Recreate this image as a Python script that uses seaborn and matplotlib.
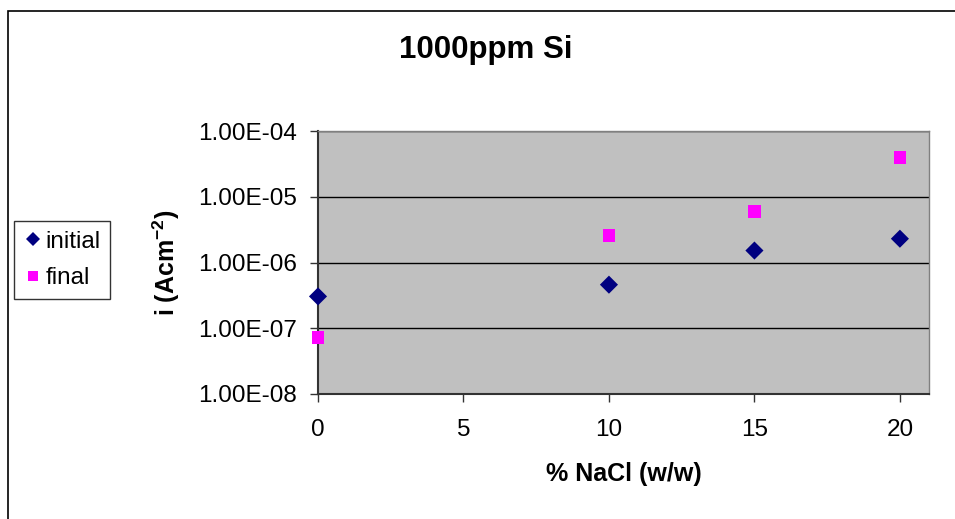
import numpy as np
import pandas as pd
import matplotlib
matplotlib.use('Agg')
import matplotlib.pyplot as plt
import matplotlib.ticker as mticker
from matplotlib.patches import Rectangle
import seaborn as sns

nacl = [0, 10, 15, 20]
i_initial = [3.05e-7, 4.6e-7, 1.52e-6, 2.3e-6]
i_final = [7.3e-8, 2.57e-6, 5.9e-6, 3.9e-5]
y_ticks = [1e-8, 1e-7, 1e-6, 1e-5, 1e-4]
x_ticks = [0, 5, 10, 15, 20]

df = pd.DataFrame({
    'nacl': nacl * 2,
    'i': i_initial + i_final,
    'series': ['initial'] * len(nacl) + ['final'] * len(nacl),
})

sns.set_style('white')
plt.rcParams['font.family'] = ['Liberation Sans', 'DejaVu Sans']
plt.rcParams['mathtext.fontset'] = 'custom'
plt.rcParams['mathtext.rm'] = 'Liberation Sans'
plt.rcParams['mathtext.bf'] = 'Liberation Sans:bold'
plt.rcParams['text.color'] = 'black'
plt.rcParams['axes.labelcolor'] = 'black'
plt.rcParams['xtick.color'] = 'black'
plt.rcParams['ytick.color'] = 'black'

fig = plt.figure(figsize=(9.55, 5.19), dpi=100)
ax = fig.add_axes([318 / 955, 1 - 394 / 519, (929 - 318) / 955, (394 - 131) / 519])
ax.set_facecolor('#C0C0C0')

sns.scatterplot(data=df, x='nacl', y='i', hue='series', style='series',
                palette={'initial': '#000080', 'final': '#FF00FF'},
                markers={'initial': 'D', 'final': 's'},
                s=85, linewidth=0, ax=ax, clip_on=False, zorder=5)

ax.set_yscale('log')
ax.set_ylim(1e-8, 1e-4)
ax.set_xlim(0, 21)
ax.set_yticks(y_ticks)
ax.yaxis.set_minor_locator(mticker.NullLocator())
ax.yaxis.set_major_formatter(mticker.FuncFormatter(lambda v, p: f'{v:.2E}'))
ax.set_xticks(x_ticks)

ax.grid(axis='y', color='black', linewidth=1)
ax.set_axisbelow(True)
for side in ['left', 'bottom']:
    ax.spines[side].set_color('#333333')
    ax.spines[side].set_linewidth(1.5)
for side in ['right', 'top']:
    ax.spines[side].set_color('#808080')
    ax.spines[side].set_linewidth(1)

ax.tick_params(axis='both', labelsize=17.5, length=6, width=1, color='#333333',
               direction='out', bottom=True, left=True, pad=9)
ax.tick_params(axis='x', pad=12)

ax.set_xlabel('% NaCl (w/w)', fontsize=18, fontweight='bold', labelpad=15)
ax.set_ylabel(r'i (Acm$^{\mathbf{-2}}$)', fontsize=18, fontweight='bold', labelpad=12)
fig.text(486 / 955, 1 - 50 / 519, '1000ppm Si', fontsize=22.5, fontweight='bold',
         ha='center', va='center')

ax.get_legend().remove()
handles, labels = ax.get_legend_handles_labels()
leg = fig.legend(handles, labels, loc='upper left', bbox_to_anchor=(14 / 955, 1 - 221 / 519),
                 fontsize=17.5, frameon=True, fancybox=False, edgecolor='black',
                 handletextpad=0.1, handlelength=0.8, borderpad=0.4, labelspacing=0.6,
                 borderaxespad=0, markerscale=0.75)
leg.get_frame().set_linewidth(1)

fig.patches.append(Rectangle((8 / 955, -0.1), 1.2, 1 - 11 / 519 + 0.1,
                             transform=fig.transFigure, fill=False,
                             edgecolor='black', linewidth=1.2))

fig.savefig('out.png', dpi=100)
